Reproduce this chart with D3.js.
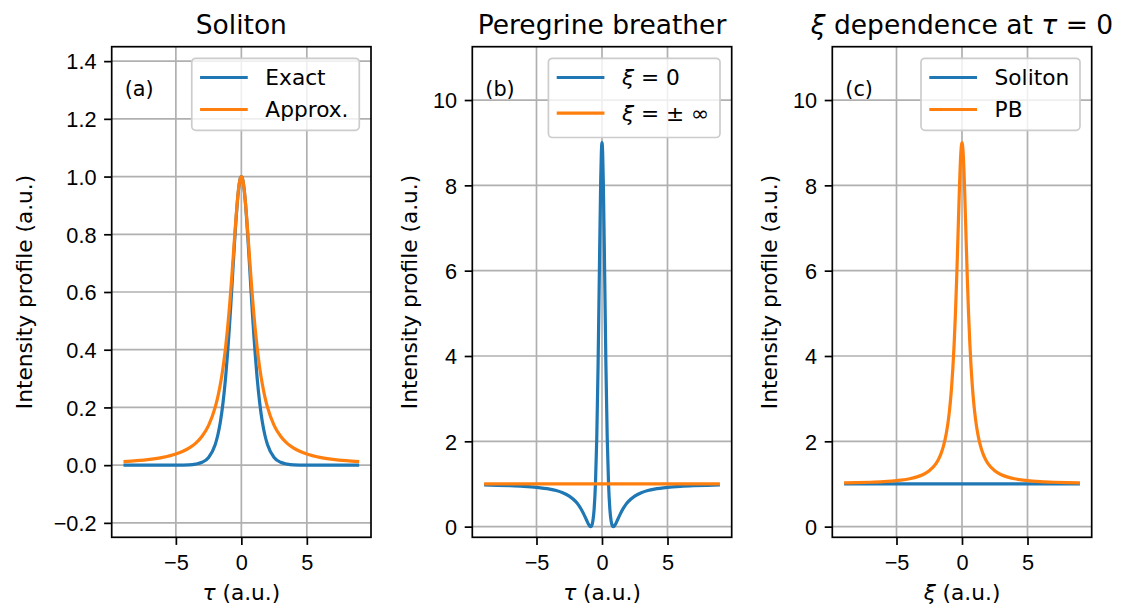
<!DOCTYPE html>
<html>
<head>
<meta charset="utf-8">
<script src="https://cdn.jsdelivr.net/npm/d3@7"></script>
<style>
  body { margin: 0; background: #fff; }
  svg { font-family: "DejaVu Sans", sans-serif; }
</style>
</head>
<body>
<svg id="chart" width="1122" height="608"></svg>
<script>
"use strict";

// === Data ===
const tau = [-9, -8, -7, -6, -5, -4, -3.5, -3, -2.5, -2, -1.8, -1.6, -1.4, -1.2, -1.05, -0.95, -0.87, -0.8, -0.7, -0.6, -0.5, -0.4, -0.3, -0.2, -0.1, -0.05,
  0, 0.05, 0.1, 0.2, 0.3, 0.4, 0.5, 0.6, 0.7, 0.8, 0.87, 0.95, 1.05, 1.2, 1.4, 1.6, 1.8, 2, 2.5, 3, 3.5, 4, 5, 6, 7, 8, 9];
const xi = [-9, -8, -7, -6, -5, -4, -3.5, -3, -2.5, -2, -1.8, -1.6, -1.4, -1.2, -1.05, -0.95, -0.87, -0.8, -0.7, -0.6, -0.5, -0.4, -0.3, -0.2, -0.1, -0.05,
  0, 0.05, 0.1, 0.2, 0.3, 0.4, 0.5, 0.6, 0.7, 0.8, 0.87, 0.95, 1.05, 1.2, 1.4, 1.6, 1.8, 2, 2.5, 3, 3.5, 4, 5, 6, 7, 8, 9];

// (a) soliton: exact and approximate profile
const solitonExact = [0, 0, 0, 0, 0.0002, 0.0013, 0.0036, 0.0099, 0.0266, 0.0707, 0.1036, 0.1505, 0.2162, 0.3050, 0.3888, 0.4527, 0.5081, 0.5591, 0.6347, 0.7116, 0.7864, 0.8556, 0.9151, 0.9610, 0.9901, 0.9975,
  1, 0.9975, 0.9901, 0.9610, 0.9151, 0.8556, 0.7864, 0.7116, 0.6347, 0.5591, 0.5081, 0.4527, 0.3888, 0.3050, 0.2162, 0.1505, 0.1036, 0.0707, 0.0266, 0.0099, 0.0036, 0.0013, 0.0002, 0, 0, 0, 0];
const solitonApprox = [0.0122, 0.0154, 0.0200, 0.0270, 0.0385, 0.0588, 0.0755, 0.1000, 0.1379, 0.2000, 0.2358, 0.2809, 0.3378, 0.4098, 0.4756, 0.5256, 0.5692, 0.6098, 0.6711, 0.7353, 0.8000, 0.8621, 0.9174, 0.9615, 0.9901, 0.9975,
  1, 0.9975, 0.9901, 0.9615, 0.9174, 0.8621, 0.8000, 0.7353, 0.6711, 0.6098, 0.5692, 0.5256, 0.4756, 0.4098, 0.3378, 0.2809, 0.2358, 0.2000, 0.1379, 0.1000, 0.0755, 0.0588, 0.0385, 0.0270, 0.0200, 0.0154, 0.0122];

// (b) Peregrine breather at xi = 0, and the flat background
const pbXi0 = [0.9755, 0.9691, 0.9598, 0.9456, 0.9224, 0.8807, 0.8464, 0.7955, 0.7160, 0.5848, 0.5090, 0.4149, 0.2998, 0.1667, 0.0679, 0.0175, 0.0000, 0.0153, 0.1234, 0.4088, 1.0000, 2.0708, 3.7682, 5.9941, 8.1006, 8.7640,
  9, 8.7640, 8.1006, 5.9941, 3.7682, 2.0708, 1.0000, 0.4088, 0.1234, 0.0153, 0.0000, 0.0175, 0.0679, 0.1667, 0.2998, 0.4149, 0.5090, 0.5848, 0.7160, 0.7955, 0.8464, 0.8807, 0.9224, 0.9456, 0.9598, 0.9691, 0.9755];
const flatX = [-9, 9];
const flatY = [1, 1];

// (c) peak intensity vs xi
const pbTau0 = [1.0246, 1.0311, 1.0406, 1.0552, 1.0792, 1.1231, 1.1600, 1.2162, 1.3077, 1.4706, 1.5731, 1.7117, 1.9050, 2.1834, 2.4787, 2.7354, 2.9863, 3.2472, 3.7027, 4.2787, 5.0000, 5.8780, 6.8824, 7.8966, 8.6923, 8.9208,
  9, 8.9208, 8.6923, 7.8966, 6.8824, 5.8780, 5.0000, 4.2787, 3.7027, 3.2472, 2.9863, 2.7354, 2.4787, 2.1834, 1.9050, 1.7117, 1.5731, 1.4706, 1.3077, 1.2162, 1.1600, 1.1231, 1.0792, 1.0552, 1.0406, 1.0311, 1.0246];

// ticks
const xTicks = [-5, 0, 5];
const yTicksA = [-0.2, 0, 0.2, 0.4, 0.6, 0.8, 1.0, 1.2, 1.4];
const yTicksBC = [0, 2, 4, 6, 8, 10];

const BLUE = "#1f77b4";
const ORANGE = "#ff7f0e";
const FS = 21.7;       // tick / label / legend size
const TITLE_FS = 26.5;
const LW = 3.2;        // data line width
const THIN = 1.7;      // spines, ticks, grid
const TICK = 7.6;

const svg = d3.select("#chart");
const plotTop = 46.7, plotBottom = 537.3;

// write text with italic greek parts: parts = [[str, italic], ...]
function richText(sel, parts) {
  parts.forEach(p => {
    sel.append("tspan").text(p[0]).attr("font-style", p[1] ? "italic" : "normal");
  });
  return sel;
}

function panel(cfg) {
  const x = d3.scaleLinear().domain([-9.9, 9.9]).range([cfg.left, cfg.right]);
  const y = d3.scaleLinear().domain(cfg.yDomain).range([plotBottom, plotTop]);
  const g = svg.append("g");

  // === Grid ===
  cfg.xTicks.forEach(t => {
    g.append("line").attr("x1", x(t)).attr("x2", x(t)).attr("y1", plotTop).attr("y2", plotBottom)
      .attr("stroke", "#b0b0b0").attr("stroke-width", THIN);
  });
  cfg.yTicks.forEach(t => {
    g.append("line").attr("x1", cfg.left).attr("x2", cfg.right).attr("y1", y(t)).attr("y2", y(t))
      .attr("stroke", "#b0b0b0").attr("stroke-width", THIN);
  });

  // === Lines ===
  const line = d3.line().x(d => x(d[0])).y(d => y(d[1])).curve(d3.curveMonotoneX);
  cfg.series.forEach(s => {
    g.append("path").datum(s.xs.map((v, i) => [v, s.ys[i]]))
      .attr("d", line).attr("fill", "none")
      .attr("stroke", s.color).attr("stroke-width", LW)
      .attr("stroke-linejoin", "round");
  });

  // === Axes ===
  const xAxis = d3.axisBottom(x).tickValues(cfg.xTicks).tickSize(TICK).tickPadding(7.6)
    .tickFormat(d => d3.format("d")(d).replace("-", "\u2212"));
  g.append("g").attr("transform", `translate(0,${plotBottom})`).call(xAxis)
    .call(a => a.select(".domain").remove())
    .call(a => a.selectAll("line").attr("stroke", "#000").attr("stroke-width", THIN))
    .call(a => a.selectAll("text").attr("font-size", FS).attr("fill", "#000")
      .attr("dy", null).attr("y", 570 - plotBottom));

  const yAxis = d3.axisLeft(y).tickValues(cfg.yTicks).tickSize(TICK).tickPadding(7.6)
    .tickFormat(d => d3.format(cfg.yFmt)(d).replace("-", "\u2212"));
  g.append("g").attr("transform", `translate(${cfg.left},0)`).call(yAxis)
    .call(a => a.select(".domain").remove())
    .call(a => a.selectAll("line").attr("stroke", "#000").attr("stroke-width", THIN))
    .call(a => a.selectAll("text").attr("font-size", FS).attr("fill", "#000").attr("dy", "0.36em"));

  // spines
  g.append("rect").attr("x", cfg.left).attr("y", plotTop)
    .attr("width", cfg.right - cfg.left).attr("height", plotBottom - plotTop)
    .attr("fill", "none").attr("stroke", "#000").attr("stroke-width", THIN);

  // === Labels ===
  richText(g.append("text").attr("x", (cfg.left + cfg.right) / 2).attr("y", 600)
    .attr("text-anchor", "middle").attr("font-size", FS), cfg.xLabel);
  g.append("text")
    .attr("transform", `translate(${cfg.yLabelX},${(plotTop + plotBottom) / 2}) rotate(-90)`)
    .attr("text-anchor", "middle").attr("font-size", FS)
    .text("Intensity profile (a.u.)");
  richText(g.append("text").attr("x", (cfg.left + cfg.right) / 2).attr("y", 33.5)
    .attr("text-anchor", "middle").attr("font-size", TITLE_FS), cfg.title);
  g.append("text").attr("x", cfg.left + 0.05 * (cfg.right - cfg.left))
    .attr("y", plotBottom - 0.9 * (plotBottom - plotTop))
    .attr("font-size", FS * 0.96).text(cfg.tag);

  // === Legend ===
  const lg = g.append("g");
  const box = lg.append("rect").attr("y", 58.3).attr("rx", 4).attr("ry", 4)
    .attr("fill", "#fff").attr("fill-opacity", 0.8)
    .attr("stroke", "#cccccc").attr("stroke-width", THIN);
  const items = cfg.series.map((s, i) => {
    const ty = 77.5 + i * cfg.rowGap;
    const ln = lg.append("line").attr("y1", ty).attr("y2", ty)
      .attr("stroke", s.color).attr("stroke-width", LW);
    const tx = richText(lg.append("text").attr("y", ty).attr("dy", "0.36em")
      .attr("font-size", FS), s.label);
    return { ln, tx };
  });
  const maxW = d3.max(items, t => t.tx.node().getComputedTextLength());
  const w = 73.6 + maxW + 10.8;
  const bx = cfg.right - 11.7 - w;
  box.attr("x", bx).attr("width", w).attr("height", cfg.series.length * cfg.rowGap + 8);
  items.forEach(t => {
    t.ln.attr("x1", bx + 8.3).attr("x2", bx + 56);
    t.tx.attr("x", bx + 73.6);
  });
}

// === Panel (a) ===
panel({
  left: 111.7, right: 371, yDomain: [-0.25, 1.45],
  xTicks: xTicks, yTicks: yTicksA, yFmt: ".1f", yLabelX: 31.7,
  xLabel: [["\u03c4", true], [" (a.u.)", false]],
  title: [["Soliton", false]], tag: "(a)", rowGap: 32,
  series: [
    { xs: tau, ys: solitonExact, color: BLUE, label: [["Exact", false]] },
    { xs: tau, ys: solitonApprox, color: ORANGE, label: [["Approx.", false]] }
  ]
});

// === Panel (b) ===
panel({
  left: 472.3, right: 731.7, yDomain: [-0.25, 11.25],
  xTicks: xTicks, yTicks: yTicksBC, yFmt: "d", yLabelX: 416.5,
  xLabel: [["\u03c4", true], [" (a.u.)", false]],
  title: [["Peregrine breather", false]], tag: "(b)", rowGap: 35.6,
  series: [
    { xs: tau, ys: pbXi0, color: BLUE, label: [["\u03be", true], [" = 0", false]] },
    { xs: flatX, ys: flatY, color: ORANGE, label: [["\u03be", true], [" =  \u00b1 \u221e", false]] }
  ]
});

// === Panel (c) ===
panel({
  left: 832.3, right: 1091.7, yDomain: [-0.25, 11.25],
  xTicks: xTicks, yTicks: yTicksBC, yFmt: "d", yLabelX: 776.5,
  xLabel: [["\u03be", true], [" (a.u.)", false]],
  title: [["\u03be", true], [" dependence at  ", false], ["\u03c4", true], [" = 0", false]],
  tag: "(c)", rowGap: 32,
  series: [
    { xs: flatX, ys: flatY, color: BLUE, label: [["Soliton", false]] },
    { xs: xi, ys: pbTau0, color: ORANGE, label: [["PB", false]] }
  ]
});
</script>
</body>
</html>
